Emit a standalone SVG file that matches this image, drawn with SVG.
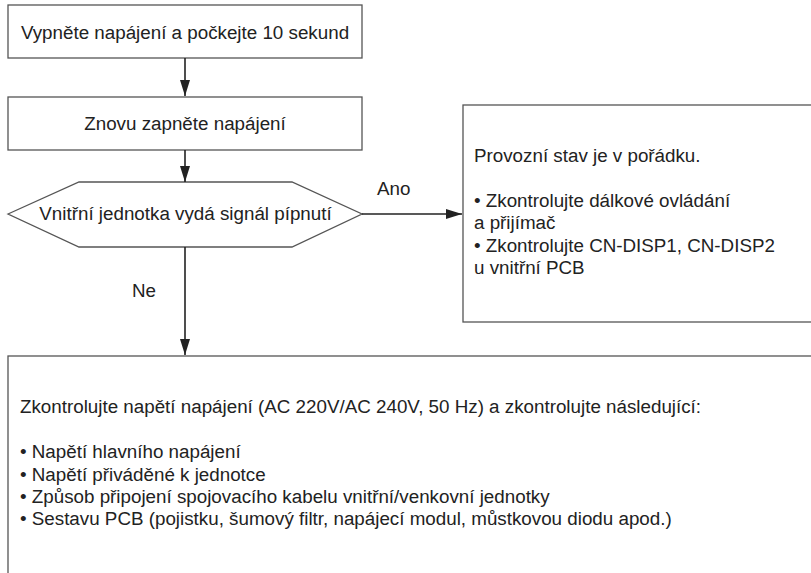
<svg xmlns="http://www.w3.org/2000/svg" width="811" height="573" viewBox="0 0 811 573">
<style>
.box{fill:#fff;stroke:#555;stroke-width:1.3}
.t{font-family:"Liberation Sans",Arial,sans-serif;font-size:18.8px;fill:#222}
.c{text-anchor:middle}
.conn{stroke:#222;stroke-width:1.6;fill:none}
</style>
<defs>
<marker id="ah" markerUnits="userSpaceOnUse" markerWidth="16" markerHeight="10" refX="16" refY="5" orient="auto">
<path d="M0,0 L16,5 L0,10 Z" fill="#222"/>
</marker>
</defs>
<rect width="811" height="573" fill="#fff"/>
<g id="n1">
<rect class="box" x="8" y="5" width="354" height="53"/>
<text class="t c" x="185" y="38.5">Vypněte napájení a počkejte 10 sekund</text>
</g>
<g id="n2">
<rect class="box" x="8" y="97" width="354" height="53"/>
<text class="t c" x="185" y="130">Znovu zapněte napájení</text>
</g>
<g id="n3">
<polygon class="box" points="8,214 79,182 292,182 362,214 292,247 79,247"/>
<text class="t c" x="185.5" y="220">Vnitřní jednotka vydá signál pípnutí</text>
</g>
<g id="n4">
<rect class="box" x="463" y="105" width="360" height="217"/>
<text class="t" x="474" y="162">Provozní stav je v pořádku.</text>
<text class="t" x="474" y="207">• Zkontrolujte dálkové ovládání</text>
<text class="t" x="474" y="229">a přijímač</text>
<text class="t" x="474" y="252">• Zkontrolujte CN-DISP1, CN-DISP2</text>
<text class="t" x="474" y="274">u vnitřní PCB</text>
</g>
<g id="n5">
<rect class="box" x="8" y="356" width="815" height="230"/>
<text class="t" x="20" y="413">Zkontrolujte napětí napájení (AC 220V/AC 240V, 50 Hz) a zkontrolujte následující:</text>
<text class="t" x="20" y="458">• Napětí hlavního napájení</text>
<text class="t" x="20" y="481">• Napětí přiváděné k jednotce</text>
<text class="t" x="20" y="503">• Způsob připojení spojovacího kabelu vnitřní/venkovní jednotky</text>
<text class="t" x="20" y="525">• Sestavu PCB (pojistku, šumový filtr, napájecí modul, můstkovou diodu apod.)</text>
</g>
<g id="connectors">
<line class="conn" x1="185" y1="58" x2="185" y2="96" marker-end="url(#ah)"/>
<line class="conn" x1="185" y1="150" x2="185" y2="182" marker-end="url(#ah)"/>
<line class="conn" x1="362" y1="214" x2="462" y2="214" marker-end="url(#ah)"/>
<line class="conn" x1="185" y1="247" x2="185" y2="355" marker-end="url(#ah)"/>
<text class="t" x="377" y="195">Ano</text>
<text class="t" x="132" y="297">Ne</text>
</g>
</svg>
